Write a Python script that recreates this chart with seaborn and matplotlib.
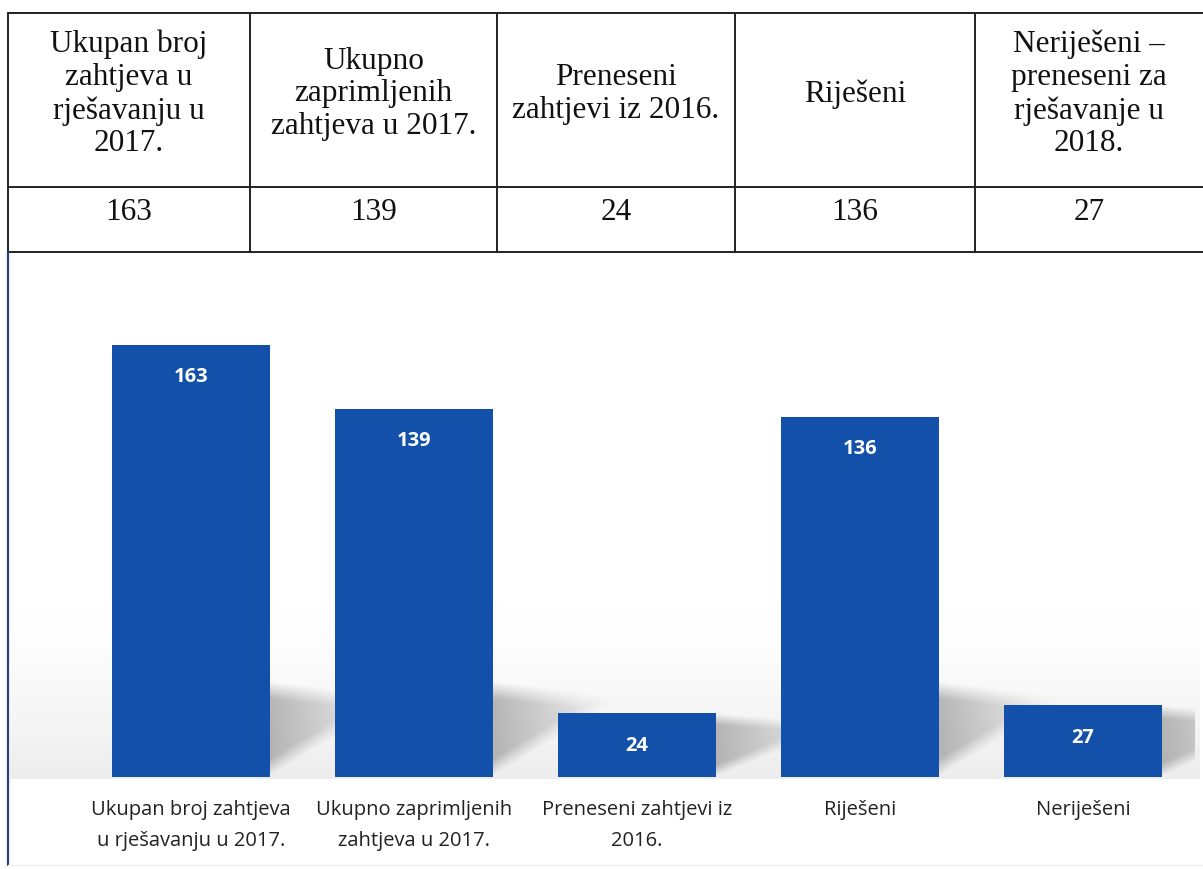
import numpy as np
import matplotlib
matplotlib.use("Agg")
import matplotlib.pyplot as plt
from matplotlib.lines import Line2D
from matplotlib.colors import LinearSegmentedColormap
import seaborn as sns

# data
header_labels = [
    "Ukupan broj\nzahtjeva u\nrješavanju u\n2017.",
    "Ukupno\nzaprimljenih\nzahtjeva u 2017.",
    "Preneseni\nzahtjevi iz 2016.",
    "Riješeni",
    "Neriješeni –\npreneseni za\nrješavanje u\n2018.",
]
table_values = [163, 139, 24, 136, 27]
categories = [
    "Ukupan broj zahtjeva\nu rješavanju u 2017.",
    "Ukupno zaprimljenih\nzahtjeva u 2017.",
    "Preneseni zahtjevi iz\n2016.",
    "Riješeni",
    "Neriješeni",
]
bar_values = [163, 139, 24, 136, 27]

W, H = 1203, 870
sns.set_theme(style="white")
plt.rcParams["font.family"] = ["Open Sans", "DejaVu Sans"]

fig = plt.figure(figsize=(W / 100, H / 100), dpi=100)
fig.patch.set_facecolor("white")


def fx(px):
    return px / W


def fy(py):
    return 1 - py / H


# table grid
col_edges = [8, 250, 497, 735, 975, 1210]
row_edges = [14, 188, 253]
for y in row_edges:
    fig.add_artist(Line2D([fx(8), fx(1210)], [fy(y), fy(y)], color="#222222", lw=1.4))
for x in col_edges[:-1]:
    fig.add_artist(Line2D([fx(x), fx(x)], [fy(14), fy(253)], color="#222222", lw=1.4))

serif = ["Liberation Serif", "DejaVu Serif"]
for i, (lab, val) in enumerate(zip(header_labels, table_values)):
    cx = (col_edges[i] + min(col_edges[i + 1], 1203)) / 2
    fig.text(fx(cx), fy(94), lab, ha="center", va="center", fontsize=22.5,
             family=serif, linespacing=1.18, color="#111111")
    fig.text(fx(cx), fy(212), str(val), ha="center", va="center", fontsize=22.5,
             family=serif, color="#111111")

# chart frame (left edge)
fig.add_artist(Line2D([fx(8), fx(8)], [fy(253), fy(866)], color="#2a3f7a", lw=1.6))
fig.add_artist(Line2D([fx(8), fx(1210)], [fy(866), fy(866)], color="#f0f0f0", lw=1.0))

# faint grey floor band behind the bars
bg = fig.add_axes([fx(10), fy(780), fx(1190), fy(600) - fy(780)], zorder=0)
grad = np.linspace(0, 1, 200).reshape(-1, 1) ** 1.5
cmap = LinearSegmentedColormap.from_list("floor", ["#ffffff", "#ededed"])
bg.imshow(grad, aspect="auto", cmap=cmap, origin="upper", extent=[0, 1, 0, 1])
bg.axis("off")

# bar chart
ax = fig.add_axes([fx(79.5), fy(778), fx(1115), fy(270) - fy(778)], zorder=1)
ax.patch.set_alpha(0)

# soft shadows cast up and to the right of each bar
half = 0.355
reach = 0.55
n = 160
u = np.linspace(0, 1, n).reshape(1, -1)
t = np.linspace(1, 0, n).reshape(-1, 1)
lower = 0.78 * u
upper = 1 - 0.15 * u
inside = np.clip(np.minimum(t - lower, upper - t) / 0.18, 0, 1)
shade = np.zeros((n, n, 4))
shade[..., :3] = 0.5
shade[..., 3] = 0.55 * inside * (1 - 0.85 * u) ** 1.2
for i, v in enumerate(bar_values):
    hs = min(v, 36)
    xr = i + half
    ax.imshow(shade, extent=[xr - 0.01, xr + reach, 0, hs], aspect="auto",
              origin="upper", zorder=0.5, interpolation="bilinear")

sns.barplot(x=categories, y=bar_values, color="#1250aa", saturation=1, width=0.71,
            linewidth=0, ax=ax, zorder=2)
ax.set_xlim(-0.5, 4.5)
ax.set_ylim(0, 508 / 2.65)

for i, v in enumerate(bar_values):
    ax.annotate(str(v), (i, v), xytext=(0, -22.5), textcoords="offset points",
                ha="center", va="center", color="white", fontsize=14.5,
                fontweight="bold", zorder=3)

ax.set_ylabel("")
ax.set_yticks([])
ax.tick_params(axis="x", length=0, pad=16, labelsize=14.5, labelcolor="#222222")
for lbl in ax.get_xticklabels():
    lbl.set_linespacing(1.75)
    lbl.set_verticalalignment("top")
for s in ax.spines.values():
    s.set_visible(False)

fig.savefig("out.png", dpi=100)
